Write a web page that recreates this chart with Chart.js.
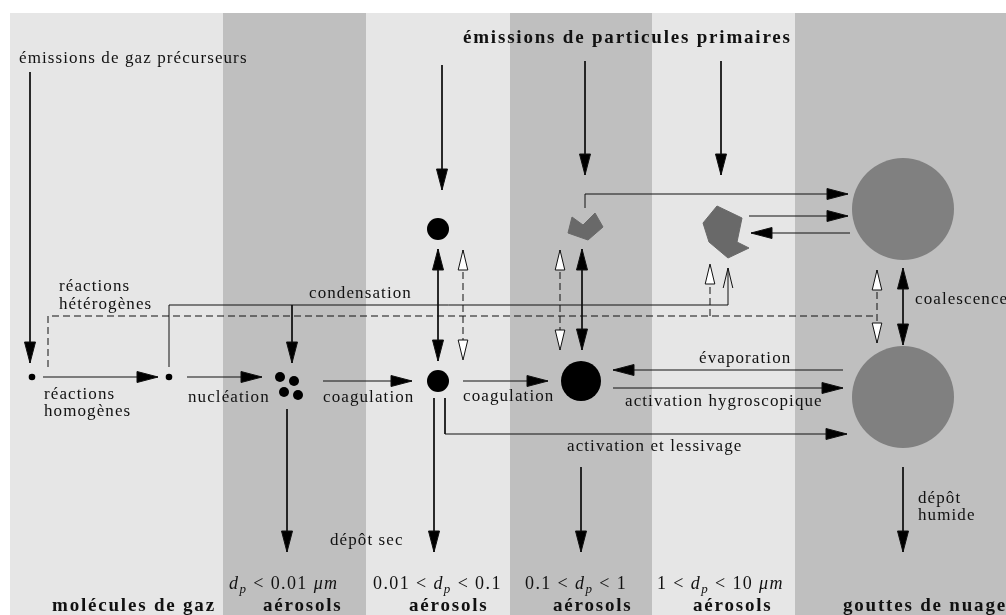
<!DOCTYPE html>
<html>
<head>
<meta charset="utf-8">
<script src="https://cdn.jsdelivr.net/npm/chart.js@4.4.0/dist/chart.umd.min.js"></script>
<style>
html,body{margin:0;padding:0;background:#ffffff;}
#wrap{width:1006px;height:615px;position:relative;}
canvas{display:block;}
</style>
</head>
<body>
<div id="wrap"><canvas id="c" width="1006" height="615"></canvas></div>
<script>
// ---------- diagram data (diagram units on linear scales) ----------
const bandEdges = [10, 223, 366, 510, 652, 795, 1006];
const bandTop = 13;

const gasMolecules   = [[32, 377], [169, 377]];
const nucleiCluster  = [[280, 377], [294, 381], [284, 392], [298, 395]];
const aitkenParticles = [[438, 229], [438, 381]];
const accumParticle  = [[581, 381]];
const cloudDrops     = [[903, 209], [903, 397]];

const primaryBlob   = [[568, 233], [572, 217], [583, 225], [595, 213], [603, 227], [588, 240]];
const coarseParticle = [[703, 223], [717, 206], [742, 218], [737, 242], [749, 248], [728, 258], [709, 242]];

// tail ... tip
const singleArrows = [
  [[30, 72], [30, 363]],
  [[43, 377], [158, 377]],
  [[187, 377], [262, 377]],
  [[323, 381], [412, 381]],
  [[463, 381], [548, 381]],
  [[292, 305], [292, 363]],
  [[442, 65], [442, 190]],
  [[585, 61], [585, 175]],
  [[721, 61], [721, 175]],
  [[585, 208], [585, 194], [848, 194]],
  [[749, 216], [848, 216]],
  [[850, 233], [751, 233]],
  [[843, 370], [613, 370]],
  [[613, 388], [843, 388]],
  [[445, 398], [445, 434], [847, 434]],
  [[287, 409], [287, 552]],
  [[434, 398], [434, 552]],
  [[581, 467], [581, 552]],
  [[903, 467], [903, 552]]
];
const doubleArrows = [
  [[438, 249], [438, 361]],
  [[582, 249], [582, 350]],
  [[903, 268], [903, 345]]
];
const dashedDoubleArrows = [
  [[463, 250], [463, 360]],
  [[560, 250], [560, 350]],
  [[877, 270], [877, 343]]
];
const dashedPaths = [
  [[48, 367], [48, 316], [877, 316]]
];
const dashedSingleArrows = [
  [[710, 316], [710, 264]]
];
const openArrows = [
  [[169, 367], [169, 305], [728, 305], [728, 268]]
];

const labelTexts = ['émissions de gaz précurseurs', 'réactions', 'hétérogènes', 'réactions', 'homogènes',
  'nucléation', 'coagulation', 'coagulation', 'condensation', 'évaporation', 'activation hygroscopique',
  'activation et lessivage', 'coalescence', 'dépôt sec', 'dépôt', 'humide'];
const labelAnchors = [[19, 63], [59, 291], [59, 309], [44, 399], [44, 416],
  [188, 402], [323, 402], [463, 401], [309, 298], [699, 363], [625, 406],
  [567, 451], [915, 304], [330, 545], [918, 503], [918, 520]];

const boldTexts = ['émissions de particules primaires', 'molécules de gaz', 'aérosols', 'aérosols', 'aérosols', 'aérosols', 'gouttes de nuage'];
const boldAnchors = [[463, 43], [52, 611], [263, 611], [409, 611], [553, 611], [693, 611], [843, 611]];

const sizeLabels = [
  [['d', 'it'], ['p', 'sub'], [' < 0.01 ', 'rm'], ['μm', 'it']],
  [['0.01 < ', 'rm'], ['d', 'it'], ['p', 'sub'], [' < 0.1', 'rm']],
  [['0.1 < ', 'rm'], ['d', 'it'], ['p', 'sub'], [' < 1', 'rm']],
  [['1 < ', 'rm'], ['d', 'it'], ['p', 'sub'], [' < 10 ', 'rm'], ['μm', 'it']]
];
const sizeAnchors = [[229, 589], [373, 589], [525, 589], [657, 589]];

// ---------- styles ----------
const BAND_COLORS = ['#e6e6e6', '#bfbfbf'];
const INK = '#111111';
const SERIF = '"Liberation Serif", "DejaVu Serif", serif';
const FONT_RM = '17px ' + SERIF;
const FONT_BF = 'bold 19px ' + SERIF;
const FONT_MATH_RM = '18px ' + SERIF;
const FONT_IT = 'italic 18px ' + SERIF;
const FONT_SUB = 'italic 13px ' + SERIF;

const pts = arr => arr.map(([x, y]) => ({x, y}));

const datasets = [];
datasets.push({data: pts(gasMolecules), pointRadius: 3.3, backgroundColor: '#000', borderWidth: 0, showLine: false});
datasets.push({data: pts(nucleiCluster), pointRadius: 5, backgroundColor: '#000', borderWidth: 0, showLine: false});
datasets.push({data: pts(aitkenParticles), pointRadius: 11, backgroundColor: '#000', borderWidth: 0, showLine: false});
datasets.push({data: pts(accumParticle), pointRadius: 20, backgroundColor: '#000', borderWidth: 0, showLine: false});

function lineDs(path, opts) {
  return Object.assign({data: pts(path), showLine: true, borderColor: INK, borderWidth: 1,
    pointRadius: 0, tension: 0, fill: false, borderDash: []}, opts);
}
singleArrows.forEach(p => datasets.push(lineDs(p, {arrowEnd: 'filled'})));
doubleArrows.forEach(p => datasets.push(lineDs(p, {arrowEnd: 'filled', arrowStart: 'filled'})));
dashedDoubleArrows.forEach(p => datasets.push(lineDs(p, {borderDash: [7, 4], arrowEnd: 'hollow', arrowStart: 'hollow'})));
dashedPaths.forEach(p => datasets.push(lineDs(p, {borderDash: [7, 4]})));
dashedSingleArrows.forEach(p => datasets.push(lineDs(p, {borderDash: [7, 4], arrowEnd: 'hollow'})));
openArrows.forEach(p => datasets.push(lineDs(p, {arrowEnd: 'open'})));

[primaryBlob, coarseParticle].forEach(poly => {
  datasets.push({data: pts(poly.concat([poly[0]])), showLine: true, fill: 'shape', tension: 0,
    backgroundColor: '#696969', borderColor: '#696969', borderWidth: 1, pointRadius: 0});
});
datasets.push({data: pts(cloudDrops), pointRadius: 51, backgroundColor: '#808080', borderWidth: 0, showLine: false});

function drawHead(ctx, tip, from, kind) {
  const dx = tip.x - from.x, dy = tip.y - from.y;
  const d = Math.hypot(dx, dy) || 1;
  const ux = dx / d, uy = dy / d;
  const len = kind === 'filled' ? 21 : 20;
  const hw = kind === 'filled' ? 5.5 : 4.8;
  const bx = tip.x - ux * len, by = tip.y - uy * len;
  const px = -uy * hw, py = ux * hw;
  ctx.save();
  ctx.setLineDash([]);
  ctx.lineWidth = 1;
  ctx.strokeStyle = INK;
  ctx.beginPath();
  if (kind === 'open') {
    ctx.moveTo(bx + px, by + py);
    ctx.lineTo(tip.x, tip.y);
    ctx.lineTo(bx - px, by - py);
    ctx.stroke();
  } else {
    ctx.moveTo(tip.x, tip.y);
    ctx.lineTo(bx + px, by + py);
    ctx.lineTo(bx - px, by - py);
    ctx.closePath();
    ctx.fillStyle = kind === 'hollow' ? '#ffffff' : '#000000';
    ctx.fill();
    ctx.stroke();
  }
  ctx.restore();
}

const diagramPlugin = {
  id: 'diagram',
  beforeDatasetsDraw(chart) {
    const {ctx, scales: {x, y}} = chart;
    ctx.save();
    for (let i = 0; i < bandEdges.length - 1; i++) {
      const x0 = x.getPixelForValue(bandEdges[i]);
      const x1 = x.getPixelForValue(bandEdges[i + 1]);
      const y0 = y.getPixelForValue(bandTop);
      const y1 = y.getPixelForValue(615);
      ctx.fillStyle = BAND_COLORS[i % 2];
      ctx.fillRect(x0, y0, x1 - x0, y1 - y0);
    }
    ctx.restore();
  },
  afterDatasetsDraw(chart) {
    const {ctx, scales: {x, y}} = chart;
    chart.data.datasets.forEach((ds, i) => {
      const el = chart.getDatasetMeta(i).data;
      const n = el.length;
      if (ds.arrowEnd) drawHead(ctx, el[n - 1], el[n - 2], ds.arrowEnd);
      if (ds.arrowStart) drawHead(ctx, el[0], el[1], ds.arrowStart);
    });
    ctx.save();
    ctx.fillStyle = INK;
    ctx.textBaseline = 'alphabetic';
    ctx.textAlign = 'left';
    ctx.font = FONT_RM;
    ctx.letterSpacing = '1.1px';
    labelTexts.forEach((t, i) => {
      ctx.fillText(t, x.getPixelForValue(labelAnchors[i][0]), y.getPixelForValue(labelAnchors[i][1]));
    });
    ctx.font = FONT_BF;
    ctx.letterSpacing = '1.8px';
    boldTexts.forEach((t, i) => {
      ctx.fillText(t, x.getPixelForValue(boldAnchors[i][0]), y.getPixelForValue(boldAnchors[i][1]));
    });
    ctx.letterSpacing = '1.4px';
    sizeLabels.forEach((segs, i) => {
      let px = x.getPixelForValue(sizeAnchors[i][0]);
      const py = y.getPixelForValue(sizeAnchors[i][1]);
      segs.forEach(([t, f]) => {
        ctx.font = f === 'it' ? FONT_IT : (f === 'sub' ? FONT_SUB : FONT_MATH_RM);
        const dy = f === 'sub' ? 4 : 0;
        ctx.fillText(t, px, py + dy);
        px += ctx.measureText(t).width;
      });
    });
    ctx.restore();
  }
};

new Chart(document.getElementById('c'), {
  type: 'scatter',
  data: {datasets},
  options: {
    responsive: false,
    animation: false,
    events: [],
    layout: {padding: 0, autoPadding: false},
    plugins: {legend: {display: false}, tooltip: {enabled: false}},
    scales: {
      x: {type: 'linear', min: 0, max: 1006, display: false},
      y: {type: 'linear', min: 0, max: 615, reverse: true, display: false}
    }
  },
  plugins: [diagramPlugin]
});
</script>
</body>
</html>
